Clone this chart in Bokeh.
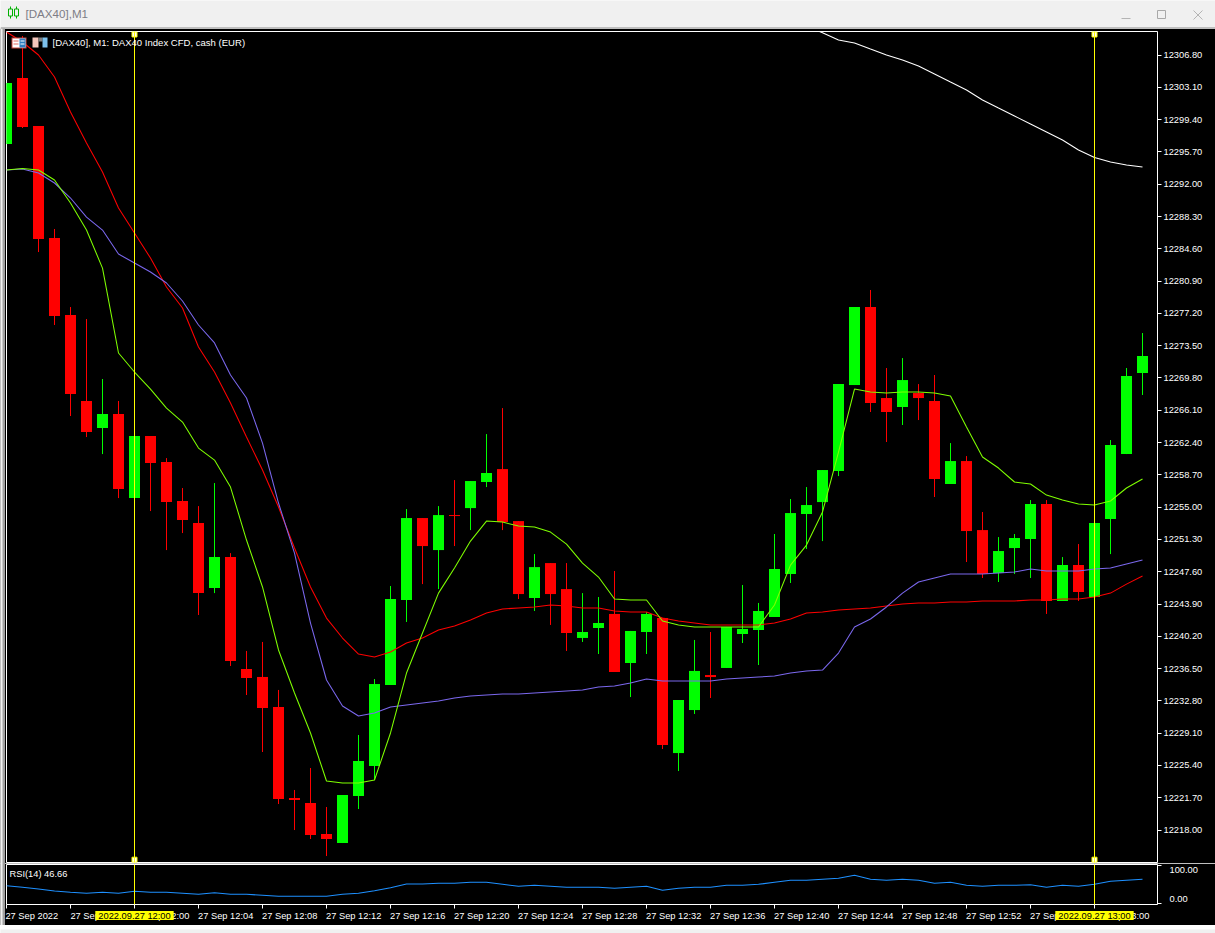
from bokeh.plotting import figure
from bokeh.layouts import column
from bokeh.models import (BoxAnnotation, ColumnDataSource, FixedTicker, Label, LinearAxis,
                          NumeralTickFormatter, Span, Range1d)
from bokeh.embed import file_html
from bokeh.resources import INLINE

nan = float("nan")

bar_index = list(range(72))

opens = [12296.61,12304.17,12298.67,12285.84,12277.01,12267.16,12264.06,12265.67,12256.04,12263.15,
 12260.17,12255.70,12253.17,12245.73,12249.28,12236.45,12235.54,12232.10,12221.67,12221.10,
 12217.54,12216.51,12221.90,12225.33,12234.62,12244.36,12253.75,12250.08,12254.09,12254.89,
 12257.88,12259.36,12253.40,12244.59,12248.59,12245.61,12240.01,12241.15,12242.76,12237.14,
 12240.69,12242.30,12226.82,12231.75,12235.76,12236.57,12240.46,12240.92,12242.41,12247.34,
 12254.21,12255.58,12259.13,12268.99,12277.93,12267.50,12266.47,12268.07,12267.16,12257.65,
 12260.28,12252.37,12247.45,12250.31,12251.34,12255.35,12244.25,12248.36,12244.70,12253.63,
 12261.08,12270.37]
highs = [12303.60,12308.98,12298.67,12286.87,12277.93,12276.55,12269.68,12267.16,12263.15,12263.15,
 12260.62,12257.19,12255.12,12257.76,12249.73,12238.52,12239.55,12234.05,12222.59,12225.11,
 12220.64,12222.01,12228.89,12235.30,12245.96,12254.78,12253.75,12255.12,12258.10,12257.99,
 12263.37,12266.35,12253.40,12249.62,12248.59,12248.59,12245.15,12244.70,12247.68,12240.81,
 12242.98,12242.30,12232.90,12239.78,12240.69,12241.27,12246.08,12244.02,12251.92,12255.93,
 12257.30,12259.25,12269.10,12277.93,12279.88,12270.94,12272.08,12269.10,12270.14,12262.34,
 12260.85,12254.44,12251.57,12251.92,12255.81,12255.81,12249.28,12250.77,12253.17,12262.69,
 12270.94,12274.95]
lows = [12296.61,12298.44,12284.23,12275.87,12265.44,12263.03,12261.08,12256.04,12256.04,12254.55,
 12250.08,12252.03,12242.64,12245.15,12236.80,12233.47,12226.94,12220.98,12218.00,12216.97,
 12215.02,12216.51,12220.41,12223.73,12234.62,12241.84,12246.18,12245.61,12250.54,12252.37,
 12257.30,12252.37,12244.47,12243.10,12241.50,12238.52,12239.55,12238.17,12236.11,12233.24,
 12238.17,12227.28,12224.76,12231.30,12233.13,12236.57,12239.43,12236.91,12242.41,12246.31,
 12250.20,12251.11,12258.56,12268.99,12265.90,12262.46,12264.41,12264.98,12256.16,12257.65,
 12248.71,12246.88,12246.42,12247.34,12246.88,12242.76,12244.25,12244.25,12244.70,12249.62,
 12261.08,12267.85]
closes = [12303.60,12298.56,12285.72,12276.90,12267.96,12263.60,12265.67,12257.07,12263.15,12260.05,
 12255.58,12253.52,12245.15,12249.28,12237.37,12235.42,12231.98,12221.56,12221.44,12217.43,
 12216.97,12222.01,12225.91,12234.73,12244.47,12253.75,12250.54,12254.09,12253.98,12257.99,
 12258.91,12253.29,12245.04,12248.13,12245.04,12240.58,12240.69,12241.72,12236.11,12240.81,
 12242.76,12227.74,12232.90,12236.23,12235.53,12241.27,12241.04,12243.10,12247.91,12254.32,
 12255.24,12259.25,12269.10,12277.93,12266.93,12265.90,12269.56,12267.50,12258.22,12260.28,
 12252.26,12247.34,12249.97,12251.46,12255.35,12244.25,12248.36,12245.27,12253.17,12262.11,
 12270.02,12272.32]

ma_lime = [12293.63,12293.80,12293.63,12292.48,12289.85,12286.75,12282.39,12272.66,12270.48,12268.53,
 12266.35,12264.75,12261.77,12260.39,12257.30,12251.23,12245.85,12238.63,12233.70,12229.12,
 12223.62,12223.39,12223.39,12223.73,12229.12,12235.99,12240.58,12245.15,12248.02,12251.11,
 12253.40,12253.29,12252.83,12252.72,12252.14,12250.77,12248.59,12246.99,12244.47,12244.36,
 12244.36,12241.95,12241.50,12241.27,12241.27,12241.27,12241.27,12241.27,12243.79,12248.36,
 12250.65,12254.44,12261.31,12268.53,12268.19,12268.07,12268.19,12268.19,12268.07,12267.73,
 12264.18,12260.74,12259.48,12257.88,12257.65,12256.38,12255.81,12255.35,12255.24,12255.70,
 12257.19,12258.22]
ma_purple = [12293.63,12293.74,12293.29,12292.14,12290.42,12288.24,12286.75,12284.00,12282.97,12281.94,
 12280.68,12278.62,12275.87,12273.81,12270.14,12267.50,12262.34,12255.47,12249.74,12241.72,
 12235.19,12232.21,12231.06,12231.41,12232.09,12232.32,12232.55,12232.78,12233.13,12233.36,
 12233.47,12233.58,12233.58,12233.70,12233.81,12233.93,12234.05,12234.39,12234.50,12234.84,
 12235.30,12235.07,12235.07,12235.07,12235.07,12235.30,12235.42,12235.53,12235.65,12235.99,
 12236.22,12236.33,12238.28,12241.27,12242.18,12243.56,12245.15,12246.42,12246.88,12247.34,
 12247.34,12247.34,12247.45,12247.57,12247.91,12247.68,12247.68,12247.68,12247.91,12248.02,
 12248.48,12248.94]
ma_red = [12309.44,12308.30,12306.81,12304.29,12300.27,12296.72,12293.40,12289.27,12286.41,12283.54,
 12280.22,12277.82,12273.35,12270.48,12266.93,12263.03,12259.25,12255.01,12250.31,12245.85,
 12242.29,12240.00,12238.17,12237.83,12238.40,12239.43,12240.00,12240.92,12241.38,12242.07,
 12242.87,12243.33,12243.44,12243.56,12243.79,12243.67,12243.44,12243.44,12243.10,12242.98,
 12242.98,12242.29,12241.95,12241.72,12241.49,12241.49,12241.49,12241.49,12241.72,12242.18,
 12242.87,12242.98,12243.21,12243.33,12243.44,12243.67,12243.90,12244.02,12244.02,12244.13,
 12244.13,12244.25,12244.25,12244.25,12244.36,12244.36,12244.47,12244.47,12244.70,12245.15,
 12246.18,12247.10]
ma_white = [nan] * 50 + [12310.13,12309.36,12308.53,12308.18,12307.49,12306.81,12306.23,12305.55,12304.63,12303.71,
 12302.80,12301.65,12300.73,12299.82,12298.90,12297.98,12297.06,12295.92,12295.06,12294.55,
 12294.20,12293.97]

rsi = [46.2,42.1,37.7,32.5,29.1,26.5,29.1,26.5,31.7,29.1,29.1,26.5,23.9,28.0,23.9,23.9,21.3,18.7,18.7,18.7,
 18.7,23.9,26.5,33.2,41.0,50.6,50.6,52.5,52.5,55.1,55.1,49.9,44.7,47.3,44.7,42.1,42.1,42.1,39.5,42.1,
 44.7,34.3,39.5,42.1,42.1,47.3,47.3,49.9,55.1,60.3,60.3,62.9,65.5,73.2,62.9,60.3,62.9,60.3,52.5,55.1,
 47.3,44.7,47.3,47.3,48.8,42.1,47.3,44.7,49.9,57.7,60.3,62.9]

price_ticks = [12218.0 + 3.7 * k for k in range(25)]
rsi_ticks = [0, 100]
rsi_tick_labels = ["0.00", "100.00"]
time_ticks = list(range(0, 69, 4))
time_labels = ["27 Sep 2022", "27 Sep 11:56", "27 Sep 12:00", "27 Sep 12:04", "27 Sep 12:08", "27 Sep 12:12",
               "27 Sep 12:16", "27 Sep 12:20", "27 Sep 12:24", "27 Sep 12:28", "27 Sep 12:32", "27 Sep 12:36",
               "27 Sep 12:40", "27 Sep 12:44", "27 Sep 12:48", "27 Sep 12:52", "27 Sep 12:56", "27 Sep 13:00"]
cursor_bars = [8, 68]
cursor_labels = ["2022.09.27 12:00", "2022.09.27 13:00"]
window_title = "[DAX40],M1"
chart_title = "[DAX40], M1:  DAX40 Index CFD, cash (EUR)"
rsi_title = "RSI(14) 46.66"

FONT = "Liberation Sans"
FS = "9.3px"
GREEN, RED, YELLOW = "#00ff00", "#ff0000", "#ffff00"
LW = 1.05

x_range = Range1d(0, 1151 / 16)

def box(fig, l, t, r, b, color, fig_top):
    # window-chrome rectangles given in page pixels, placed in canvas units (measured from the top)
    fig.add_layout(BoxAnnotation(left=l, right=r, top=t - fig_top, bottom=b - fig_top,
                                 left_units="canvas", right_units="canvas",
                                 top_units="canvas", bottom_units="canvas",
                                 fill_color=color, fill_alpha=1, line_color=None, level="overlay"))

# ---------- window title bar ----------
top = figure(width=1215, height=28, x_range=(0, 1215), y_range=(28, 0), tools="",
             toolbar_location=None, output_backend="svg", x_axis_location=None, y_axis_location=None,
             background_fill_color="#f0f0f0", border_fill_color="#f0f0f0", outline_line_color=None, min_border=0,
             frame_align=False)
top.grid.visible = False
top.rect(x=[607.5], y=[27.5], width=[1215], height=[1], fill_color="#8c8c8c", line_color=None)
top.segment(x0=[10, 16], y0=[6, 6], x1=[10, 16], y1=[18, 18], line_color="#00b000")
top.rect(x=[10, 16], y=[12, 12], width=[4, 4], height=[7, 7], fill_color="#f0f0f0", line_color="#00b000")
top.segment(x0=[1121, 1193, 1193], y0=[18, 10, 19], x1=[1130, 1202, 1202], y1=[18, 19, 10], line_color="#b4b4b4")
top.rect(x=[1161], y=[14], width=[8], height=[8], fill_color=None, line_color="#a8a8a8")
top.add_layout(Label(x=25, y=13, text=window_title, text_font=FONT, text_font_size="11.6px",
                     text_color="#7d7d85", text_baseline="middle", x_units="data", y_units="data"))

# ---------- main chart ----------
p = figure(width=1215, height=835, x_range=x_range, y_range=(12214.28, 12309.50), tools="",
           toolbar_location=None, output_backend="svg", x_axis_location=None, y_axis_location="right",
           background_fill_color="#000000", border_fill_color="#000000", outline_line_color="#ffffff",
           min_border_left=6, min_border_right=58, min_border_top=3, min_border_bottom=1)
p.grid.visible = False
ax = p.yaxis[0]
ax.ticker = FixedTicker(ticks=price_ticks)
ax.formatter = NumeralTickFormatter(format="0.00")
ax.major_tick_in = 0
ax.major_tick_out = 4
ax.major_tick_line_color = "#ffffff"
ax.axis_line_color = None
ax.minor_tick_line_color = None
ax.major_label_text_color = "#ffffff"
ax.major_label_text_font = FONT
ax.major_label_text_font_size = FS
ax.major_label_standoff = 2

up = [i for i in bar_index if closes[i] >= opens[i]]
down = [i for i in bar_index if closes[i] < opens[i]]
for idx, col in ((up, GREEN), (down, RED)):
    src = ColumnDataSource(dict(x=[bar_index[i] for i in idx], h=[highs[i] for i in idx], l=[lows[i] for i in idx],
                                t=[max(opens[i], closes[i]) for i in idx], b=[min(opens[i], closes[i]) for i in idx]))
    p.segment(x0="x", y0="h", x1="x", y1="l", source=src, line_color=col, line_width=1)
    p.vbar(x="x", width=11 / 16, top="t", bottom="b", source=src, fill_color=col, line_color=None)

p.line(bar_index, ma_red, line_color="#ff0000", line_width=LW)
p.line(bar_index, ma_purple, line_color="#7b68ee", line_width=LW)
p.line(bar_index, ma_lime, line_color="#7fff00", line_width=LW)
p.line(bar_index, ma_white, line_color="#ffffff", line_width=LW)

for c in cursor_bars:
    p.add_layout(Span(location=c, dimension="height", line_color=YELLOW, line_width=1))
    p.scatter(x=[c, c], y=[12309.16, 12214.6], marker="square", size=5, fill_color="#ffffff", line_color=YELLOW)

p.add_layout(Label(x=46, y=820, x_units="screen", y_units="screen", text=chart_title, text_font=FONT,
                   text_font_size="9.55px", text_color="#ffffff", text_baseline="middle"))

# chart-window icons
TOP_P = 28
box(p, 11, 37, 26, 48, "#c8463c", TOP_P)
box(p, 12, 38, 25, 47, "#ffffff", TOP_P)
box(p, 19, 38, 25, 47, "#2f7fc1", TOP_P)
box(p, 13, 40, 18, 41, "#e06a60", TOP_P)
box(p, 13, 43, 18, 44, "#e06a60", TOP_P)
box(p, 20, 40, 24, 41, "#ffffff", TOP_P)
box(p, 20, 43, 24, 44, "#ffffff", TOP_P)
box(p, 32, 37, 38, 47, "#f4c6bc", TOP_P)
box(p, 38, 37, 42, 41, "#808080", TOP_P)
box(p, 42, 37, 47, 47, "#7cc0ec", TOP_P)

# ---------- RSI panel ----------
r = figure(width=1215, height=62, x_range=x_range, y_range=(-2.6, 101.3), tools="",
           toolbar_location=None, output_backend="svg", x_axis_location="below", y_axis_location="right",
           background_fill_color="#000000", border_fill_color="#000000", outline_line_color="#ffffff",
           min_border_left=6, min_border_right=58, min_border_top=1, min_border_bottom=21)
r.grid.visible = False
r.line(bar_index, rsi, line_color="#1e90ff", line_width=LW)

# MetaTrader places these labels beside their ticks, so the ticks are minor ticks and the
# labels sit on shifted major positions.
ry = r.yaxis[0]
ry_shift = {0: 10.5, 100: 87.0}
ry.ticker = FixedTicker(ticks=[ry_shift[t] for t in rsi_ticks], minor_ticks=rsi_ticks)
ry.major_label_overrides = {ry_shift[t]: s for t, s in zip(rsi_ticks, rsi_tick_labels)}
ry.major_tick_line_color = None
ry.minor_tick_in = 0
ry.minor_tick_out = 4
ry.minor_tick_line_color = "#ffffff"
ry.axis_line_color = None
ry.major_label_text_color = "#ffffff"
ry.major_label_text_font = FONT
ry.major_label_text_font_size = FS
ry.major_label_standoff = 6

rx = r.xaxis[0]
shift = {t: (1.58 if t == 0 else 1.7) for t in time_ticks}
rx.ticker = FixedTicker(ticks=[t + shift[t] for t in time_ticks], minor_ticks=time_ticks)
rx.major_label_overrides = {t + shift[t]: s for t, s in zip(time_ticks, time_labels)}
rx.major_tick_line_color = None
rx.minor_tick_in = 0
rx.minor_tick_out = 4
rx.minor_tick_line_color = "#ffffff"
rx.axis_line_color = None
rx.major_label_text_color = "#ffffff"
rx.major_label_text_font = FONT
rx.major_label_text_font_size = FS
rx.major_label_standoff = 0

for c in cursor_bars:
    r.add_layout(Span(location=c, dimension="height", line_color=YELLOW, line_width=1))

r.add_layout(Label(x=3, y=31, x_units="screen", y_units="screen", text=rsi_title, text_font=FONT,
                   text_font_size=FS, text_color="#ffffff", text_baseline="middle"))

# ---------- transparent strip over the time axis for the yellow cursor labels ----------
strip = figure(width=1215, height=11, x_range=x_range, y_range=(0, 11), tools="",
               toolbar_location=None, output_backend="svg", x_axis_location=None, y_axis_location=None,
               background_fill_color=None, border_fill_color=None, outline_line_color=None,
               min_border_left=6, min_border_right=58, min_border_top=0, min_border_bottom=0,
               frame_align=False, margin=(-16, 0, 5, 0))
strip.grid.visible = False
for c, s in zip(cursor_bars, cursor_labels):
    strip.add_layout(Label(x=c, y=5.5, x_units="data", y_units="screen", text=s, text_font=FONT, text_font_size=FS,
                           text_color="#000000", text_align="center", text_baseline="middle",
                           background_fill_color=YELLOW, padding=(3, 0)))

# ---------- left window edge, laid over the panels ----------
edge = figure(width=5, height=897, x_range=(0, 5), y_range=(0, 1), tools="",
              toolbar_location=None, output_backend="svg", x_axis_location=None, y_axis_location=None,
              background_fill_color="#a0a0a0", border_fill_color="#a0a0a0", outline_line_color=None, min_border=0,
              frame_align=False, margin=(-897, 0, 0, 0))
edge.grid.visible = False
edge.rect(x=[1], y=[0.5], width=[2], height=[1], fill_color="#f0f0f0", line_color=None)

# ---------- window bottom edge ----------
bot = figure(width=1215, height=8, x_range=(0, 1215), y_range=(8, 0), tools="",
             toolbar_location=None, output_backend="svg", x_axis_location=None, y_axis_location=None,
             background_fill_color="#f0f0f0", border_fill_color="#f0f0f0", outline_line_color=None, min_border=0,
             frame_align=False)
bot.grid.visible = False
bot.rect(x=[607.5], y=[6.5], width=[1215], height=[3], fill_color="#8c8c8c", line_color=None)

page = column(top, p, r, strip, edge, bot, spacing=0)
open("out.html", "w").write(file_html(page, INLINE))
